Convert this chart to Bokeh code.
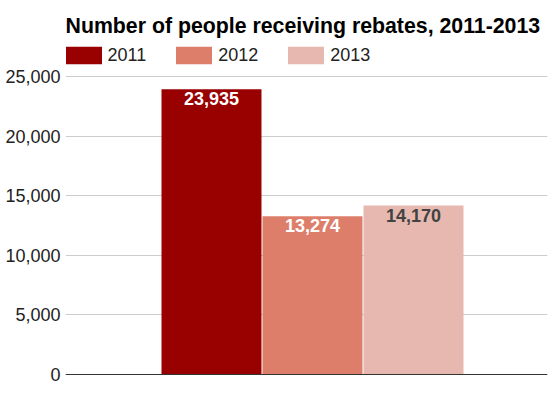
from bokeh.plotting import figure
from bokeh.models import (ColumnDataSource, Range1d, Legend, LegendItem, Label,
                          NumeralTickFormatter, FixedTicker, Span)
from bokeh.core.properties import value
from bokeh.embed import file_html
from bokeh.resources import INLINE

# ---- data ----
years = ["2011", "2012", "2013"]
people = [23935, 13274, 14170]
value_labels = ["23,935", "13,274", "14,170"]
y_ticks = [0, 5000, 10000, 15000, 20000, 25000]
title_text = "Number of people receiving rebates, 2011-2013"

# ---- styles ----
bar_colors = ["#990000", "#dd7e6b", "#e6b8af"]
label_colors = ["#ffffff", "#ffffff", "#424242"]
FONT = "Liberation Sans"

src = ColumnDataSource(dict(
    x=list(range(len(years))), top=people, year=years,
    label=value_labels, color=bar_colors, tcolor=label_colors))

p = figure(width=552, height=398, output_backend="svg", toolbar_location=None,
           x_range=Range1d(-1.4455, 3.3268), y_range=Range1d(-167.8, 31375.8),
           x_axis_location=None,
           min_border_left=65, min_border_right=5, min_border_top=0,
           min_border_bottom=22)
p.title = None
p.outline_line_color = None
p.background_fill_color = "white"
p.border_fill_color = "white"

r = p.vbar(x="x", top="top", bottom=0, width=0.99, fill_color="color",
           line_color=None, source=src)

p.text(x="x", y="top", text="label", text_color="tcolor", text_align="center",
       text_baseline="top", text_font=value(FONT), text_font_style="bold",
       text_font_size="18px", y_offset=3, source=src)

p.add_layout(Span(location=0, dimension="width", line_color="#333333",
                  line_width=1))

p.add_layout(Label(x=0, y=351, x_units="screen", y_units="screen",
                   text=title_text, text_font=FONT, text_font_size="21.3px",
                   text_font_style="bold", text_color="#000000",
                   text_baseline="alphabetic", text_align="left"))

legend = Legend(items=[LegendItem(label=y, renderers=[r], index=i)
                       for i, y in enumerate(years)],
                orientation="horizontal", location=(-4.5, 309.8),
                margin=0, padding=0, spacing=25, label_standoff=2,
                glyph_width=45, glyph_height=22, label_height=18,
                label_text_font=FONT, label_text_font_size="18px",
                label_text_color="#222222",
                border_line_color=None, background_fill_color=None,
                background_fill_alpha=0)
p.add_layout(legend, "center")

p.yaxis.ticker = FixedTicker(ticks=y_ticks)
p.yaxis.formatter = NumeralTickFormatter(format="0,0")
p.yaxis.axis_line_color = None
p.yaxis.major_tick_line_color = None
p.yaxis.minor_tick_line_color = None
p.yaxis.major_tick_out = 0
p.yaxis.major_tick_in = 0
p.yaxis.major_label_standoff = 5
p.yaxis.major_label_text_font = FONT
p.yaxis.major_label_text_font_size = "18px"
p.yaxis.major_label_text_color = "#222222"

p.ygrid.ticker = FixedTicker(ticks=y_ticks)
p.ygrid.grid_line_color = "#cccccc"
p.xgrid.visible = False

open("out.html", "w").write(file_html(p, INLINE))
